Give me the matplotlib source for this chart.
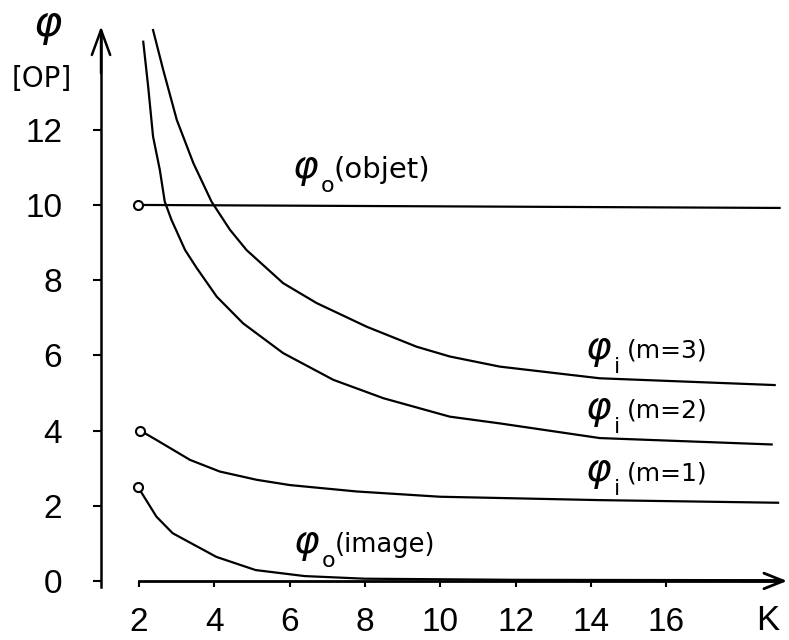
import matplotlib
matplotlib.use('Agg')
import matplotlib.pyplot as plt
import numpy as np

plt.rcParams['font.family'] = ['Liberation Sans', 'DejaVu Sans']
plt.rcParams['mathtext.fontset'] = 'dejavusans'

# valeurs (K, phi en OP)
k_objet = [1.98, 19.0]
phi_objet = [10.0, 9.92]

k_m3 = [2.38, 2.65, 3.01, 3.45, 3.93, 4.42, 4.86, 5.39, 5.83, 6.72, 8.05, 9.37, 10.25, 11.58, 14.23, 18.87]
phi_m3 = [14.65, 13.59, 12.26, 11.11, 10.09, 9.34, 8.80, 8.32, 7.92, 7.39, 6.76, 6.23, 5.97, 5.70, 5.39, 5.21]

k_m2 = [2.12, 2.25, 2.38, 2.56, 2.69, 2.87, 3.23, 3.54, 4.07, 4.77, 5.83, 7.16, 8.49, 10.25, 11.58, 14.23, 18.79]
phi_m2 = [14.34, 13.15, 11.82, 10.93, 10.09, 9.60, 8.80, 8.32, 7.56, 6.85, 6.06, 5.35, 4.86, 4.37, 4.19, 3.80, 3.63]

k_m1 = [2.04, 2.47, 3.36, 4.15, 5.13, 6.01, 7.78, 9.99, 14.23, 18.96]
phi_m1 = [4.0, 3.75, 3.22, 2.91, 2.69, 2.55, 2.38, 2.24, 2.15, 2.08]

k_image = [1.98, 2.47, 2.9, 4.06, 5.1, 6.4, 8.0, 12.0, 19.0]
phi_image = [2.5, 1.71, 1.27, 0.64, 0.29, 0.13, 0.06, 0.03, 0.02]

x_ticks = [2, 4, 6, 8, 10, 12, 14, 16]
y_ticks = [0, 2, 4, 6, 8, 10, 12]

fig = plt.figure(figsize=(7.89, 6.4), dpi=100)
ax = fig.add_axes([0, 0, 1, 1])
ax.set_xlim(-1.68, 19.25)
ax.set_ylim(-1.57, 15.45)
ax.patch.set_visible(False)

ax.spines['top'].set_visible(False)
ax.spines['right'].set_visible(False)
ax.spines['left'].set_position(('data', 1.0))
ax.spines['bottom'].set_position(('data', 0.0))
ax.spines['left'].set_bounds(-0.15, 14.6)
ax.spines['bottom'].set_bounds(2, 19.0)
ax.spines['left'].set_linewidth(1.8)
ax.spines['bottom'].set_linewidth(2.0)

ax.set_xticks(x_ticks)
ax.set_yticks(y_ticks)
ax.tick_params(axis='y', direction='out', length=6, width=1.5, pad=22, labelsize=24)
ax.tick_params(axis='x', direction='out', length=4.5, width=1.5, pad=14, labelsize=24)

# fleches des axes
ax.annotate('', xy=(1.0, 14.75), xytext=(1.0, 13.5),
            arrowprops=dict(arrowstyle='->,head_length=0.9,head_width=0.33',
                            mutation_scale=20, lw=1.8, color='black',
                            shrinkA=0, shrinkB=0))
ax.annotate('', xy=(19.2, 0.0), xytext=(18.0, 0.0),
            arrowprops=dict(arrowstyle='->,head_length=0.7,head_width=0.28',
                            mutation_scale=20, lw=2.0, color='black',
                            shrinkA=0, shrinkB=0))

lw = 1.6
ax.plot(k_objet, phi_objet, color='black', lw=lw)
ax.plot(k_m3, phi_m3, color='black', lw=lw)
ax.plot(k_m2, phi_m2, color='black', lw=lw)
ax.plot(k_m1, phi_m1, color='black', lw=lw)
ax.plot(k_image, phi_image, color='black', lw=lw)

# petits cercles au debut
for kk, pp in [(k_objet, phi_objet), (k_m1, phi_m1), (k_image, phi_image)]:
    ax.plot(kk[0], pp[0], 'o', ms=6.5, mfc='white', mec='black', mew=1.5, zorder=5)


def etiquette(x, y, sub, rest, size=18):
    phi = ax.text(x, y, r'$\varphi$', fontsize=28, ha='left', va='center')
    ax.annotate(sub, xy=(1.0, 0.05), xycoords=phi, xytext=(1, 0), textcoords='offset points',
                fontsize=16, ha='left', va='center', family='DejaVu Sans')
    ax.text(x + 1.1, y, rest, fontsize=size, ha='left', va='center', family='DejaVu Sans')


etiquette(6.06, 10.93, 'o', '(objet)', size=21)
etiquette(6.09, 0.96, 'o', '(image)', size=18.5)
etiquette(13.84, 6.12, 'i', '(m=3)')
etiquette(13.84, 4.53, 'i', '(m=2)')
etiquette(13.84, 2.87, 'i', '(m=1)')

# titre des axes
ax.text(-0.81, 14.73, r'$\varphi$', fontsize=31, ha='left', va='center')
ax.text(-1.36, 13.35, '[OP]', fontsize=20, ha='left', va='center', family='DejaVu Sans')
ax.text(18.69, -1.04, 'K', fontsize=25, ha='center', va='center')

fig.savefig('out.png', dpi=100)
